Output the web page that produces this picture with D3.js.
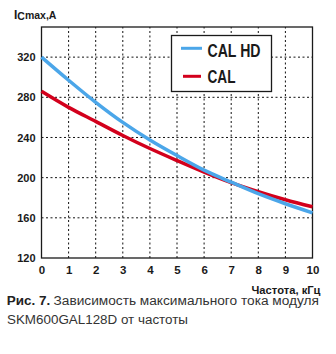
<!DOCTYPE html>
<html><head><meta charset="utf-8">
<script src="https://cdn.jsdelivr.net/npm/d3@7"></script>
<style>body{margin:0;background:#fff}svg{display:block}</style>
</head><body>
<script>
const freq = [0,1,2,3,4,5,6,7,8,9,10];
const calHD = [320,297,275,255,237.5,222,207.5,195.5,184,174,165];
const cal   = [286,270,256,242,229,217,205.5,195,186,178,171];
const yTicks = [120,160,200,240,280,320];
const xTicks = [0,1,2,3,4,5,6,7,8,9,10];
const seriesNames = ["CAL HD","CAL"];
const colors = ["#4ba6e9","#d3001c"];

const W=336,H=354;
const svg=d3.select("body").append("svg").attr("width",W).attr("height",H);
const x=d3.scaleLinear().domain([0,10]).range([41.5,312.5]);
const y=d3.scaleLinear().domain([120,350]).range([258,27]);
const font="'Liberation Sans Narrow','Liberation Sans',Arial,sans-serif";

// grid
svg.append("g").selectAll("line").data(yTicks.filter(d=>d>120)).join("line")
 .attr("x1",x(0)).attr("x2",x(10)).attr("y1",d=>y(d)).attr("y2",d=>y(d))
 .attr("stroke","#111").attr("stroke-width",1).attr("stroke-dasharray","2,2.5");
svg.append("g").selectAll("line").data(xTicks.filter(d=>d>0&&d<10)).join("line")
 .attr("x1",d=>x(d)).attr("x2",d=>x(d)).attr("y1",y(120)).attr("y2",y(350))
 .attr("stroke","#111").attr("stroke-width",1).attr("stroke-dasharray","2,2.5");
// border
svg.append("rect").attr("x",x(0)).attr("y",y(350)).attr("width",x(10)-x(0)).attr("height",y(120)-y(350))
 .attr("fill","none").attr("stroke","#1a1a1a").attr("stroke-width",1.3);

// axes labels
const yAxis=d3.axisLeft(y).tickValues(yTicks).tickSize(0).tickPadding(6);
const gy=svg.append("g").attr("transform",`translate(${x(0)},0)`).call(yAxis);
gy.select(".domain").remove();
gy.selectAll("text").attr("font-family",font).attr("font-weight","bold").attr("font-size",11).attr("fill","#1a1a1a");
const xAxis=d3.axisBottom(x).tickValues(xTicks).tickSize(0).tickPadding(8);
const gx=svg.append("g").attr("transform",`translate(0,${y(120)})`).call(xAxis);
gx.select(".domain").remove();
gx.selectAll("text").attr("font-family",font).attr("font-weight","bold").attr("font-size",11.5).attr("fill","#1a1a1a");

// lines
const line=d3.line().x((d,i)=>x(freq[i])).y(d=>y(d)).curve(d3.curveCatmullRom);
[cal,calHD].forEach((s,k)=>{
 svg.append("path").attr("d",line(s)).attr("fill","none")
  .attr("stroke",k===0?colors[1]:colors[0]).attr("stroke-width",3.5);
});

// legend
const lg=svg.append("g");
lg.append("rect").attr("x",171.5).attr("y",35.5).attr("width",100).attr("height",56)
 .attr("fill","#fff").attr("stroke","#1a1a1a").attr("stroke-width",1.3);
seriesNames.forEach((n,i)=>{
 const yy=i===0?48.3:76.3;
 lg.append("line").attr("x1",i===0?181:183).attr("x2",i===0?202:201).attr("y1",yy).attr("y2",yy)
  .attr("stroke",colors[i]).attr("stroke-width",3);
 lg.append("text").attr("x",207.5).attr("y",i===0?56.5:83).text(n)
  .attr("font-family",font).attr("font-weight","bold").attr("font-size",18).attr("fill","#1a1a1a")
  .attr("textLength",i===0?53:28).attr("lengthAdjust","spacingAndGlyphs");
});

// y title
const yt=svg.append("text").attr("x",14).attr("y",18.5).attr("font-family",font).attr("font-weight","bold").attr("fill","#1a1a1a");
yt.append("tspan").attr("font-size",12).text("I");
yt.append("tspan").attr("font-size",10.5).attr("dy",1.5).text("C");
yt.append("tspan").attr("font-size",10.5).attr("dy",-1.5).text("max,A");

// x title
svg.append("text").attr("x",320.5).attr("y",293.5).attr("text-anchor","end").text("Частота, кГц")
 .attr("font-family",font).attr("font-weight","bold").attr("font-size",10.5).attr("fill","#1a1a1a")
 .attr("textLength",69).attr("lengthAdjust","spacingAndGlyphs");

// caption
const cf="'Liberation Sans Narrow','Liberation Sans',Arial,sans-serif";
svg.append("text").attr("x",6.7).attr("y",305).text("Рис. 7.")
 .attr("font-family",cf).attr("font-weight","bold").attr("font-size",12.5).attr("fill","#222")
 .attr("textLength",43.5).attr("lengthAdjust","spacingAndGlyphs");
svg.append("text").attr("x",53.5).attr("y",305).text("Зависимость максимального тока модуля")
 .attr("font-family",cf).attr("font-size",12.5).attr("fill","#333")
 .attr("textLength",265.5).attr("lengthAdjust","spacingAndGlyphs");
svg.append("text").attr("x",7).attr("y",324).text("SKM600GAL128D от частоты")
 .attr("font-family",cf).attr("font-size",12.5).attr("fill","#333")
 .attr("textLength",181).attr("lengthAdjust","spacingAndGlyphs");
</script>
</body></html>
